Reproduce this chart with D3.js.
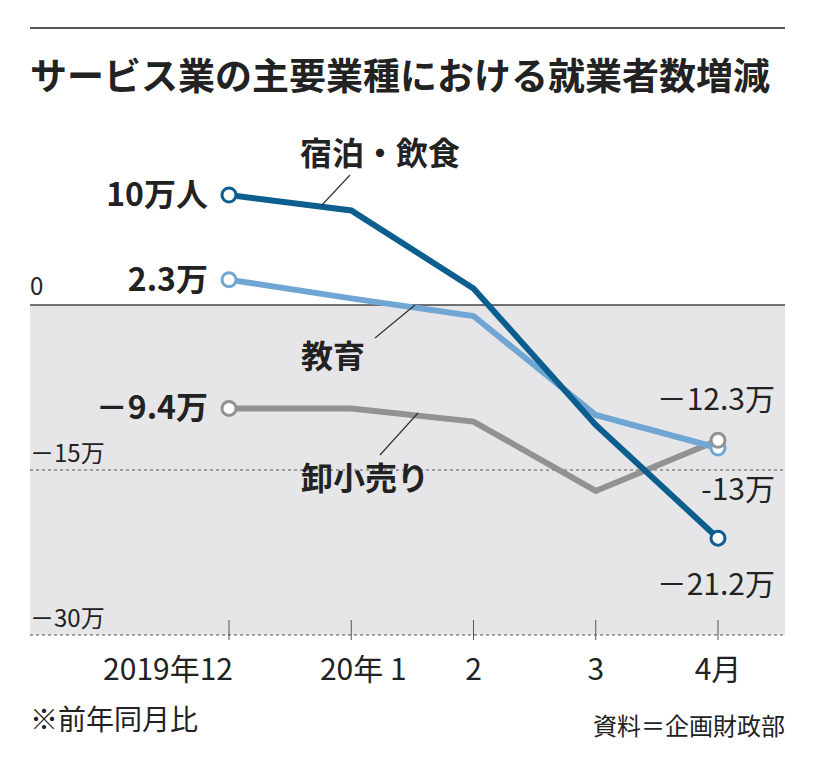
<!DOCTYPE html>
<html lang="ja">
<head>
<meta charset="UTF-8">
<script src="https://d3js.org/d3.v7.min.js"></script>
<style>
  body { margin: 0; background: #fff; font-family: "Noto Sans CJK JP", sans-serif; }
  text { font-family: "Noto Sans CJK JP", sans-serif; fill: #222; }
</style>
</head>
<body>
<svg width="817" height="770"></svg>
<script>
  const months = ["2019年12", "20年 1", "2", "3", "4月"];
  const series = [
    { name: "宿泊・飲食", color: "#0b5e8e", values: [10, 8.6, 1.5, -10.9, -21.2] },
    { name: "教育", color: "#6fa6d3", values: [2.3, 0.6, -1.0, -10.0, -13.0] },
    { name: "卸小売り", color: "#929292", values: [-9.4, -9.4, -10.6, -16.9, -12.3] }
  ];

  const svg = d3.select("svg");
  const x = d3.scalePoint().domain(months).range([229, 718]);
  const y = d3.scaleLinear().domain([-30, 0]).range([635, 305]);

  svg.append("line").attr("x1", 30).attr("x2", 785).attr("y1", 28).attr("y2", 28)
    .attr("stroke", "#555").attr("stroke-width", 2);
  svg.append("text").attr("x", 30).attr("y", 90).attr("font-size", 37).attr("font-weight", "bold")
    .text("サービス業の主要業種における就業者数増減");

  // negative area
  svg.append("rect").attr("x", 30).attr("y", y(0)).attr("width", 755).attr("height", y(-30) - y(0))
    .attr("fill", "#e6e6e8");
  svg.append("line").attr("x1", 30).attr("x2", 785).attr("y1", y(0)).attr("y2", y(0))
    .attr("stroke", "#444").attr("stroke-width", 1.5);
  [-15, -30].forEach(v => {
    svg.append("line").attr("x1", 30).attr("x2", 785).attr("y1", y(v)).attr("y2", y(v))
      .attr("stroke", "#555").attr("stroke-dasharray", "3,3");
  });
  svg.append("text").attr("x", 30).attr("y", y(0) - 10).attr("font-size", 24).text("0");
  svg.append("text").attr("x", 30).attr("y", y(-15) - 8).attr("font-size", 24).text("－15万");
  svg.append("text").attr("x", 30).attr("y", y(-30) - 8).attr("font-size", 24).text("－30万");

  // x ticks
  months.forEach(m => {
    svg.append("line").attr("x1", x(m)).attr("x2", x(m)).attr("y1", 620).attr("y2", 640)
      .attr("stroke", "#555");
  });
  const xoff = [0, 12, 0, 0, 0];
  svg.selectAll(".xl").data(months).enter().append("text")
    .attr("x", (d, i) => i === 0 ? x(d) + 4 : x(d) + xoff[i])
    .attr("y", 680)
    .attr("text-anchor", (d, i) => i === 0 ? "end" : "middle")
    .attr("font-size", 30)
    .text(d => d);

  const line = d3.line().x((d, i) => x(months[i])).y(d => y(d));
  series.slice().reverse().forEach(s => {
    svg.append("path").datum(s.values).attr("d", line).attr("fill", "none")
      .attr("stroke", s.color).attr("stroke-width", 6);
  });
  series.forEach(s => {
    [0, 4].forEach(i => {
      svg.append("circle").attr("cx", x(months[i])).attr("cy", y(s.values[i])).attr("r", 7)
        .attr("fill", "#fff").attr("stroke", s.color).attr("stroke-width", 3);
    });
  });

  const lab = (t, xx, yy, anchor, size, weight) =>
    svg.append("text").attr("x", xx).attr("y", yy).attr("text-anchor", anchor)
      .attr("font-size", size).attr("font-weight", weight || "normal").text(t);

  lab("10万人", 208, y(10) + 11, "end", 32, "bold");
  lab("2.3万", 208, y(2.3) + 11, "end", 32, "bold");
  lab("－9.4万", 208, y(-9.4) + 11, "end", 32, "bold");
  lab("－12.3万", 775, 410, "end", 30);
  lab("-13万", 775, 500, "end", 30);
  lab("－21.2万", 775, 595, "end", 30);

  lab("宿泊・飲食", 380, 165, "middle", 32, "bold");
  lab("教育", 333, 368, "middle", 32, "bold");
  lab("卸小売り", 365, 490, "middle", 32, "bold");
  const lead = (x1, y1, x2, y2) => svg.append("line").attr("x1", x1).attr("y1", y1)
    .attr("x2", x2).attr("y2", y2).attr("stroke", "#333").attr("stroke-width", 1.2);
  lead(322, 205, 350, 175);
  lead(375, 338, 415, 305);
  lead(380, 455, 418, 413);

  lab("※前年同月比", 30, 730, "start", 28);
  lab("資料＝企画財政部", 785, 735, "end", 24);
</script>
</body>
</html>
